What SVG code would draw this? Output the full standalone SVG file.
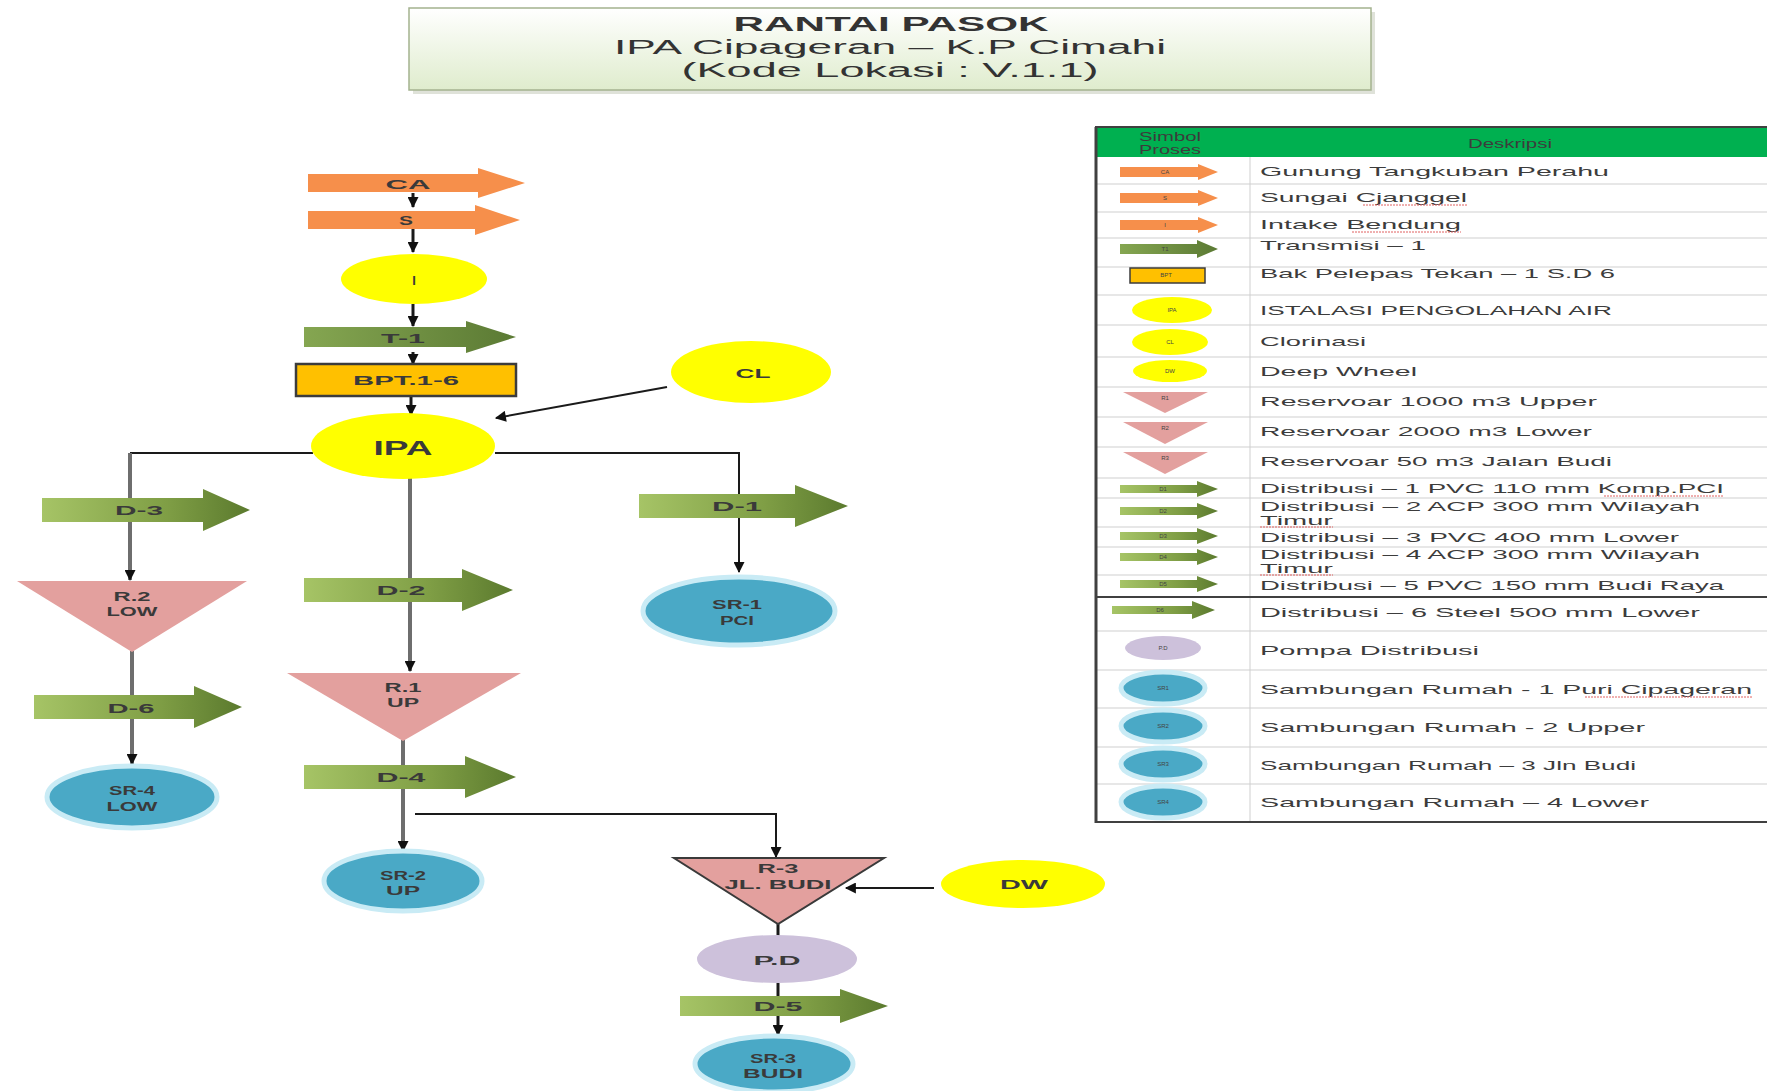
<svg xmlns="http://www.w3.org/2000/svg" width="1767" height="1091" viewBox="0 0 1767 1091">
<defs>
<linearGradient id="gTitle" x1="0" y1="0" x2="0" y2="1"><stop offset="0" stop-color="#ffffff"/><stop offset="1" stop-color="#dfeccd"/></linearGradient>
<linearGradient id="gGreen" x1="0" y1="0" x2="1" y2="0"><stop offset="0" stop-color="#a6c466"/><stop offset="0.6" stop-color="#7f9e45"/><stop offset="1" stop-color="#5b7a2e"/></linearGradient>
<linearGradient id="gDark" x1="0" y1="0" x2="1" y2="0"><stop offset="0" stop-color="#85a651"/><stop offset="1" stop-color="#5b7a34"/></linearGradient>
<marker id="ah" viewBox="0 0 10 10" refX="9" refY="5" markerWidth="12" markerHeight="11" markerUnits="userSpaceOnUse" orient="auto"><path d="M0,0 L10,5 L0,10 Z" fill="#111"/></marker>
<filter id="soft" x="-20%" y="-20%" width="140%" height="140%"><feGaussianBlur stdDeviation="0.6"/></filter>
</defs>
<style>
.or{fill:#f68f4b}
.gr{fill:url(#gGreen)}
.dk{fill:url(#gDark)}
.yl{fill:#ffff00}
.pk{fill:#e3a09e}
.bl{fill:#4aa9c6;stroke:#c9ebf5;stroke-width:5}
.lv{fill:#cdc1db}
.lbl{font-family:"Liberation Sans",Arial,sans-serif;font-weight:bold;font-size:13px;fill:#3a3a3a;text-anchor:middle;dominant-baseline:central}
.big{font-size:21px}
.pipe{stroke:#6e6e6e;stroke-width:4;fill:none}
.wire{stroke:#1a1a1a;stroke-width:2;fill:none}
.stub{stroke:#1a1a1a;stroke-width:3;fill:none}
.lt{font-family:"Liberation Sans",Arial,sans-serif;font-size:13px;fill:#3c3c3c;dominant-baseline:central}
.tiny{font-family:"Liberation Sans",Arial,sans-serif;font-size:6px;fill:#444;text-anchor:middle;dominant-baseline:central}
.row{stroke:#cfcfcf;stroke-width:1}
.ttl{font-family:"Liberation Sans",Arial,sans-serif;font-size:20px;fill:#333;text-anchor:middle}
.sq{stroke:#e06060;stroke-width:1;stroke-dasharray:2 1}
</style>

<g id="title">
<rect x="413" y="12" width="962" height="82" fill="#c9cfc0" opacity="0.6"/>
<rect x="409" y="8" width="962" height="82" fill="url(#gTitle)" stroke="#a4b28f" stroke-width="1.5"/>
<text class="ttl" x="891" y="31" font-weight="bold" textLength="315" lengthAdjust="spacingAndGlyphs">RANTAI PASOK</text>
<text class="ttl" x="890" y="54" textLength="552" lengthAdjust="spacingAndGlyphs">IPA Cipageran – K.P Cimahi</text>
<text class="ttl" x="890" y="77" textLength="417" lengthAdjust="spacingAndGlyphs">(Kode Lokasi : V.1.1)</text>
</g>

<g id="connectors">
<line class="stub" x1="413" y1="193" x2="413" y2="207" marker-end="url(#ah)"/>
<line class="stub" x1="413" y1="228" x2="413" y2="252" marker-end="url(#ah)"/>
<line class="stub" x1="413" y1="304" x2="413" y2="326" marker-end="url(#ah)"/>
<line class="stub" x1="413" y1="352" x2="413" y2="364" marker-end="url(#ah)"/>
<line class="stub" x1="411" y1="396" x2="411" y2="415" marker-end="url(#ah)"/>
<line class="wire" x1="667" y1="387" x2="496" y2="418" marker-end="url(#ah)"/>
<polyline class="wire" points="313,453 130,453"/>
<line class="pipe" x1="130" y1="453" x2="130" y2="580" marker-end="url(#ah)"/>
<polyline class="wire" points="495,453 739,453 739,572" marker-end="url(#ah)"/>
<line class="pipe" x1="410" y1="478" x2="410" y2="671" marker-end="url(#ah)"/>
<line class="pipe" x1="132" y1="651" x2="132" y2="764" marker-end="url(#ah)"/>
<line class="pipe" x1="403" y1="740" x2="403" y2="851" marker-end="url(#ah)"/>
<polyline class="wire" points="415,814 776,814 776,857" marker-end="url(#ah)"/>
<line class="wire" x1="934" y1="888" x2="846" y2="888" marker-end="url(#ah)"/>
<line class="stub" x1="778" y1="923" x2="778" y2="938"/>
<line class="stub" x1="778" y1="983" x2="778" y2="1035" marker-end="url(#ah)"/>
</g>

<g id="node-CA"><path class="or" d="M308,174 L478,174 L478,168 L525,183 L478,198 L478,192 L308,192 Z"/><text class="lbl" x="408" y="184" textLength="45" lengthAdjust="spacingAndGlyphs">CA</text></g>
<g id="node-S"><path class="or" d="M308,211 L475,211 L475,205 L520,220 L475,235 L475,229 L308,229 Z"/><text class="lbl" x="406" y="220" textLength="14" lengthAdjust="spacingAndGlyphs">S</text></g>
<g id="node-I"><ellipse class="yl" cx="414" cy="279" rx="73" ry="25"/><text class="lbl" x="414" y="280">I</text></g>
<g id="node-T1"><path class="dk" d="M304,327 L466,327 L466,321 L516,337 L466,353 L466,347 L304,347 Z"/><text class="lbl" x="403" y="338" textLength="44" lengthAdjust="spacingAndGlyphs">T-1</text></g>
<g id="node-BPT"><rect x="296" y="364" width="220" height="32" fill="#ffc000" stroke="#3c3c3c" stroke-width="2.5"/><text class="lbl" x="406" y="380" textLength="106" lengthAdjust="spacingAndGlyphs">BPT.1-6</text></g>
<g id="node-CL"><ellipse class="yl" cx="751" cy="372" rx="80" ry="31"/><text class="lbl" x="753" y="373" textLength="35" lengthAdjust="spacingAndGlyphs">CL</text></g>
<g id="node-IPA"><ellipse class="yl" cx="403" cy="446" rx="92" ry="33"/><text class="lbl big" x="403" y="447" textLength="59" lengthAdjust="spacingAndGlyphs">IPA</text></g>

<g id="node-D3"><path class="gr" d="M42,498 L203,498 L203,489 L250,510 L203,531 L203,522 L42,522 Z"/><text class="lbl" x="139" y="510" textLength="48" lengthAdjust="spacingAndGlyphs">D-3</text></g>
<g id="node-R2"><path class="pk" d="M17,581 L247,581 L132,652 Z"/><text class="lbl" x="132" y="596" textLength="37" lengthAdjust="spacingAndGlyphs">R.2</text><text class="lbl" x="132" y="611" textLength="51" lengthAdjust="spacingAndGlyphs">LOW</text></g>
<g id="node-D6"><path class="gr" d="M34,695 L194,695 L194,686 L242,707 L194,728 L194,719 L34,719 Z"/><text class="lbl" x="131" y="708" textLength="47" lengthAdjust="spacingAndGlyphs">D-6</text></g>
<g id="node-SR4"><ellipse class="bl" cx="132" cy="797" rx="85" ry="31"/><text class="lbl" x="132" y="790" textLength="46" lengthAdjust="spacingAndGlyphs">SR-4</text><text class="lbl" x="132" y="806" textLength="51" lengthAdjust="spacingAndGlyphs">LOW</text></g>

<g id="node-D2"><path class="gr" d="M304,578 L462,578 L462,569 L513,590 L462,611 L462,602 L304,602 Z"/><text class="lbl" x="401" y="590" textLength="49" lengthAdjust="spacingAndGlyphs">D-2</text></g>
<g id="node-R1"><path class="pk" d="M287,673 L521,673 L403,741 Z"/><text class="lbl" x="403" y="687" textLength="37" lengthAdjust="spacingAndGlyphs">R.1</text><text class="lbl" x="403" y="702" textLength="32" lengthAdjust="spacingAndGlyphs">UP</text></g>
<g id="node-D4"><path class="gr" d="M304,765 L465,765 L465,756 L516,777 L465,798 L465,789 L304,789 Z"/><text class="lbl" x="401" y="777" textLength="49" lengthAdjust="spacingAndGlyphs">D-4</text></g>
<g id="node-SR2"><ellipse class="bl" cx="403" cy="881" rx="79" ry="30"/><text class="lbl" x="403" y="875" textLength="46" lengthAdjust="spacingAndGlyphs">SR-2</text><text class="lbl" x="403" y="890" textLength="34" lengthAdjust="spacingAndGlyphs">UP</text></g>

<g id="node-D1"><path class="gr" d="M639,494 L795,494 L795,485 L848,506 L795,527 L795,518 L639,518 Z"/><text class="lbl" x="737" y="506" textLength="50" lengthAdjust="spacingAndGlyphs">D-1</text></g>
<g id="node-SR1"><ellipse class="bl" cx="739" cy="611" rx="96" ry="34"/><text class="lbl" x="737" y="604" textLength="50" lengthAdjust="spacingAndGlyphs">SR-1</text><text class="lbl" x="737" y="620" textLength="34" lengthAdjust="spacingAndGlyphs">PCI</text></g>

<g id="node-R3"><path class="pk" d="M674,858 L884,858 L778,924 Z" stroke="#3a3a3a" stroke-width="2"/><text class="lbl" x="778" y="868" textLength="41" lengthAdjust="spacingAndGlyphs">R-3</text><text class="lbl" x="778" y="884" textLength="107" lengthAdjust="spacingAndGlyphs">JL. BUDI</text></g>
<g id="node-DW"><ellipse class="yl" cx="1023" cy="884" rx="82" ry="24"/><text class="lbl" x="1024" y="884" textLength="48" lengthAdjust="spacingAndGlyphs">DW</text></g>
<g id="node-PD"><ellipse class="lv" cx="777" cy="959" rx="80" ry="24"/><text class="lbl" x="777" y="960" textLength="47" lengthAdjust="spacingAndGlyphs">P.D</text></g>
<g id="node-D5"><path class="gr" d="M680,996 L840,996 L840,989 L888,1006 L840,1023 L840,1016 L680,1016 Z"/><text class="lbl" x="778" y="1006" textLength="49" lengthAdjust="spacingAndGlyphs">D-5</text></g>
<g id="node-SR3"><ellipse class="bl" cx="774" cy="1064" rx="79" ry="28"/><text class="lbl" x="773" y="1058" textLength="46" lengthAdjust="spacingAndGlyphs">SR-3</text><text class="lbl" x="773" y="1073" textLength="60" lengthAdjust="spacingAndGlyphs">BUDI</text></g>

<g id="legend">
<rect x="1095" y="127" width="690" height="696" fill="#ffffff"/>
<rect x="1095" y="127" width="690" height="30" fill="#00b050"/>
<text class="lt" x="1170" y="136" text-anchor="middle" textLength="62" lengthAdjust="spacingAndGlyphs" font-size="11">Simbol</text>
<text class="lt" x="1170" y="149" text-anchor="middle" textLength="62" lengthAdjust="spacingAndGlyphs" font-size="11">Proses</text>
<text class="lt" x="1510" y="143" text-anchor="middle" textLength="84" lengthAdjust="spacingAndGlyphs" font-size="11">Deskripsi</text>
<g class="row">
<line x1="1095" y1="184" x2="1767" y2="184"/><line x1="1095" y1="212" x2="1767" y2="212"/><line x1="1095" y1="238" x2="1767" y2="238"/><line x1="1095" y1="267" x2="1767" y2="267"/><line x1="1095" y1="295" x2="1767" y2="295"/><line x1="1095" y1="325" x2="1767" y2="325"/><line x1="1095" y1="357" x2="1767" y2="357"/><line x1="1095" y1="387" x2="1767" y2="387"/><line x1="1095" y1="417" x2="1767" y2="417"/><line x1="1095" y1="447" x2="1767" y2="447"/><line x1="1095" y1="478" x2="1767" y2="478"/><line x1="1095" y1="498" x2="1767" y2="498"/><line x1="1095" y1="527" x2="1767" y2="527"/><line x1="1095" y1="547" x2="1767" y2="547"/><line x1="1095" y1="575" x2="1767" y2="575"/><line x1="1095" y1="631" x2="1767" y2="631"/><line x1="1095" y1="670" x2="1767" y2="670"/><line x1="1095" y1="708" x2="1767" y2="708"/><line x1="1095" y1="747" x2="1767" y2="747"/><line x1="1095" y1="784" x2="1767" y2="784"/>
<line x1="1250" y1="157" x2="1250" y2="823"/>
</g>
<line x1="1095" y1="597" x2="1767" y2="597" stroke="#404040" stroke-width="2"/>
<line x1="1096" y1="127" x2="1096" y2="823" stroke="#404040" stroke-width="3"/>
<line x1="1095" y1="127" x2="1767" y2="127" stroke="#404040" stroke-width="2"/>
<line x1="1095" y1="822" x2="1767" y2="822" stroke="#404040" stroke-width="2"/>

<path class="or" d="M1120,167 L1198,167 L1198,164 L1218,172 L1198,180 L1198,177 L1120,177 Z"/><text class="tiny" x="1165" y="172">CA</text>
<path class="or" d="M1120,193 L1198,193 L1198,190 L1218,198 L1198,206 L1198,203 L1120,203 Z"/><text class="tiny" x="1165" y="198">S</text>
<path class="or" d="M1120,220 L1198,220 L1198,217 L1218,225 L1198,233 L1198,230 L1120,230 Z"/><text class="tiny" x="1165" y="225">I</text>
<path class="dk" d="M1120,244 L1197,244 L1197,240 L1218,249 L1197,258 L1197,254 L1120,254 Z"/><text class="tiny" x="1165" y="249">T1</text>
<rect x="1130" y="268" width="75" height="15" fill="#ffc000" stroke="#3c3c3c" stroke-width="1.5"/><text class="tiny" x="1166" y="275">BPT</text>
<ellipse class="yl" cx="1172" cy="310" rx="40" ry="13"/><text class="tiny" x="1172" y="310">IPA</text>
<ellipse class="yl" cx="1170" cy="342" rx="38" ry="13"/><text class="tiny" x="1170" y="342">CL</text>
<ellipse class="yl" cx="1170" cy="371" rx="37" ry="11"/><text class="tiny" x="1170" y="371">DW</text>
<path class="pk" d="M1123,392 L1208,392 L1165,413 Z"/><text class="tiny" x="1165" y="398">R1</text>
<path class="pk" d="M1123,422 L1208,422 L1165,444 Z"/><text class="tiny" x="1165" y="428">R2</text>
<path class="pk" d="M1123,452 L1208,452 L1165,474 Z"/><text class="tiny" x="1165" y="458">R3</text>
<path class="gr" d="M1120,485 L1197,485 L1197,481 L1218,489 L1197,497 L1197,493 L1120,493 Z"/><text class="tiny" x="1163" y="489">D1</text>
<path class="gr" d="M1120,507 L1197,507 L1197,503 L1218,511 L1197,519 L1197,515 L1120,515 Z"/><text class="tiny" x="1163" y="511">D2</text>
<path class="gr" d="M1120,532 L1197,532 L1197,528 L1218,536 L1197,544 L1197,540 L1120,540 Z"/><text class="tiny" x="1163" y="536">D3</text>
<path class="gr" d="M1120,553 L1197,553 L1197,549 L1218,557 L1197,565 L1197,561 L1120,561 Z"/><text class="tiny" x="1163" y="557">D4</text>
<path class="gr" d="M1120,580 L1197,580 L1197,576 L1218,584 L1197,592 L1197,588 L1120,588 Z"/><text class="tiny" x="1163" y="584">D5</text>
<path class="gr" d="M1112,606 L1192,606 L1192,601 L1215,610 L1192,619 L1192,614 L1112,614 Z"/><text class="tiny" x="1160" y="610">D6</text>
<ellipse class="lv" cx="1163" cy="648" rx="38" ry="12"/><text class="tiny" x="1163" y="648">P.D</text>
<ellipse class="bl" cx="1163" cy="688" rx="42" ry="16" stroke-width="2"/><text class="tiny" x="1163" y="688">SR1</text>
<ellipse class="bl" cx="1163" cy="726" rx="42" ry="16" stroke-width="2"/><text class="tiny" x="1163" y="726">SR2</text>
<ellipse class="bl" cx="1163" cy="764" rx="42" ry="16" stroke-width="2"/><text class="tiny" x="1163" y="764">SR3</text>
<ellipse class="bl" cx="1163" cy="802" rx="42" ry="16" stroke-width="2"/><text class="tiny" x="1163" y="802">SR4</text>

<text class="lt" x="1260" y="171" textLength="349" lengthAdjust="spacingAndGlyphs">Gunung Tangkuban Perahu</text>
<text class="lt" x="1260" y="197" textLength="207" lengthAdjust="spacingAndGlyphs">Sungai Cjanggel</text>
<line class="sq" x1="1363" y1="205" x2="1467" y2="205"/>
<text class="lt" x="1260" y="224" textLength="201" lengthAdjust="spacingAndGlyphs">Intake Bendung</text>
<line class="sq" x1="1352" y1="232" x2="1461" y2="232"/>
<text class="lt" x="1260" y="245" textLength="166" lengthAdjust="spacingAndGlyphs">Transmisi – 1</text>
<text class="lt" x="1260" y="273" textLength="355" lengthAdjust="spacingAndGlyphs">Bak Pelepas Tekan – 1 S.D 6</text>
<text class="lt" x="1260" y="310" textLength="352" lengthAdjust="spacingAndGlyphs">ISTALASI PENGOLAHAN AIR</text>
<text class="lt" x="1260" y="341" textLength="106" lengthAdjust="spacingAndGlyphs">Clorinasi</text>
<text class="lt" x="1260" y="371" textLength="157" lengthAdjust="spacingAndGlyphs">Deep Wheel</text>
<text class="lt" x="1260" y="401" textLength="337" lengthAdjust="spacingAndGlyphs">Reservoar 1000  m3 Upper</text>
<text class="lt" x="1260" y="431" textLength="332" lengthAdjust="spacingAndGlyphs">Reservoar 2000  m3 Lower</text>
<text class="lt" x="1260" y="461" textLength="352" lengthAdjust="spacingAndGlyphs">Reservoar 50 m3 Jalan Budi</text>
<text class="lt" x="1260" y="488" textLength="464" lengthAdjust="spacingAndGlyphs">Distribusi – 1 PVC 110  mm Komp.PCI</text>
<line class="sq" x1="1604" y1="496" x2="1724" y2="496"/>
<text class="lt" x="1260" y="506" textLength="440" lengthAdjust="spacingAndGlyphs">Distribusi – 2 ACP 300  mm Wilayah</text>
<text class="lt" x="1260" y="520" textLength="73" lengthAdjust="spacingAndGlyphs">Timur</text>
<line class="sq" x1="1260" y1="527" x2="1333" y2="527"/>
<text class="lt" x="1260" y="537" textLength="419" lengthAdjust="spacingAndGlyphs">Distribusi – 3 PVC 400  mm Lower</text>
<text class="lt" x="1260" y="554" textLength="440" lengthAdjust="spacingAndGlyphs">Distribusi – 4 ACP 300  mm Wilayah</text>
<text class="lt" x="1260" y="568" textLength="73" lengthAdjust="spacingAndGlyphs">Timur</text>
<line class="sq" x1="1260" y1="575" x2="1333" y2="575"/>
<text class="lt" x="1260" y="585" textLength="464" lengthAdjust="spacingAndGlyphs">Distribusi – 5 PVC 150  mm Budi Raya</text>
<text class="lt" x="1260" y="612" textLength="440" lengthAdjust="spacingAndGlyphs">Distribusi – 6 Steel 500  mm Lower</text>
<text class="lt" x="1260" y="650" textLength="219" lengthAdjust="spacingAndGlyphs">Pompa Distribusi</text>
<text class="lt" x="1260" y="689" textLength="492" lengthAdjust="spacingAndGlyphs">Sambungan Rumah - 1 Puri Cipageran</text>
<line class="sq" x1="1585" y1="697" x2="1752" y2="697"/>
<text class="lt" x="1260" y="727" textLength="385" lengthAdjust="spacingAndGlyphs">Sambungan Rumah - 2 Upper</text>
<text class="lt" x="1260" y="765" textLength="376" lengthAdjust="spacingAndGlyphs">Sambungan Rumah – 3 Jln Budi</text>
<text class="lt" x="1260" y="802" textLength="389" lengthAdjust="spacingAndGlyphs">Sambungan Rumah – 4 Lower</text>
</g>
</svg>
